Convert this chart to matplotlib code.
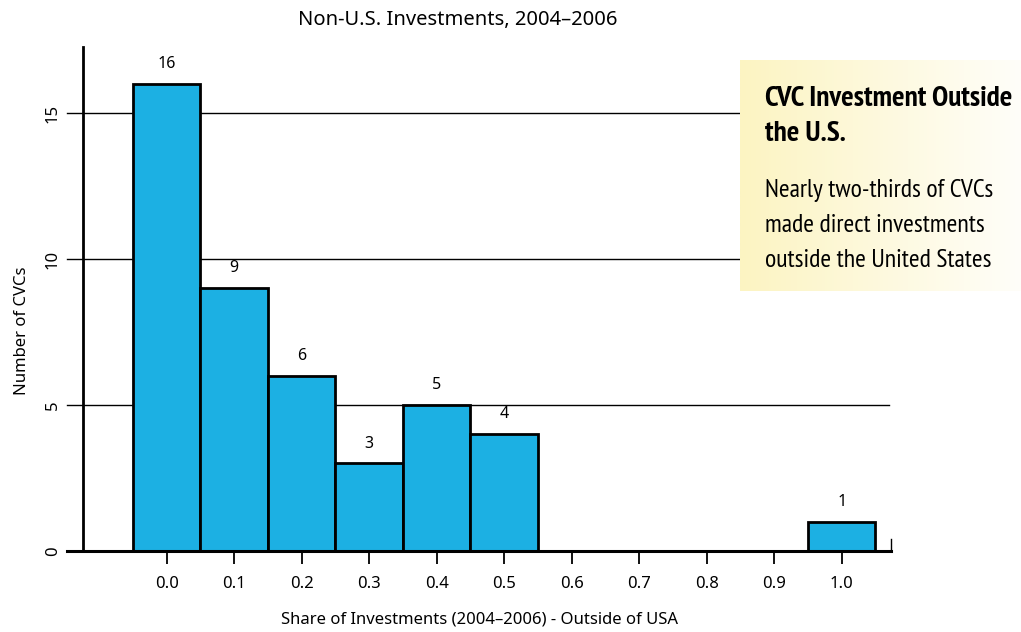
import numpy as np
import matplotlib.pyplot as plt
from matplotlib.colors import LinearSegmentedColormap

bin_centers = [0.0, 0.1, 0.2, 0.3, 0.4, 0.5, 0.6, 0.7, 0.8, 0.9, 1.0]
counts = [16, 9, 6, 3, 5, 4, 0, 0, 0, 0, 1]
x_ticks = [0.0, 0.1, 0.2, 0.3, 0.4, 0.5, 0.6, 0.7, 0.8, 0.9, 1.0]
y_ticks = [0, 5, 10, 15]

plt.rcParams['font.family'] = ['Noto Sans', 'DejaVu Sans']

W, H = 1021, 632
fig = plt.figure(figsize=(W / 100, H / 100), dpi=100)
ax = fig.add_axes([83 / W, 81 / H, 808 / W, 504 / H])

ax.bar(bin_centers, counts, width=0.1, color='#1cb0e3', edgecolor='black',
       linewidth=2, zorder=3)
for xc, c in zip(bin_centers, counts):
    if c > 0:
        ax.text(xc, c + 0.68, str(c), ha='center', va='center', fontsize=11.5)

ax.set_xlim(-0.124, 1.073)
ax.set_ylim(0, 17.26)

for yv in y_ticks[1:]:
    ax.axhline(yv, xmin=-0.02, xmax=0.998, color='black', linewidth=1,
               clip_on=False, zorder=1)
ax.axhline(0, xmin=-0.02, xmax=1.0, color='black', linewidth=2.2,
           clip_on=False, zorder=4)
ax.plot([1.073, 1.073], [0, 0.4], color='black', linewidth=1, clip_on=False)

for s in ['top', 'right', 'bottom']:
    ax.spines[s].set_visible(False)
ax.spines['left'].set_linewidth(2)

ax.set_xticks(x_ticks)
ax.set_xticklabels([f'{v:.1f}' for v in x_ticks], fontsize=12)
ax.tick_params(axis='x', length=9, width=1.3, pad=9)
ax.set_yticks(y_ticks)
ax.set_yticklabels([str(v) for v in y_ticks], fontsize=12, rotation=90, va='center')
ax.tick_params(axis='y', length=0, pad=16)

fig.text(458 / W, 1 - 20 / H, 'Non-U.S. Investments, 2004\u20132006', fontsize=14.5,
         ha='center', va='center')
fig.text(479 / W, 1 - 620 / H, 'Share of Investments (2004\u20132006) - Outside of USA',
         fontsize=12, ha='center', va='center')
fig.text(22 / W, 1 - 331 / H, 'Number of CVCs', fontsize=12, rotation=90,
         ha='center', va='center')

# annotation panel
bx = fig.add_axes([740 / W, (H - 291) / H, 281 / W, 231 / H])
grad = np.linspace(0, 1, 256)[None, :]
cmap = LinearSegmentedColormap.from_list('y', ['#fcf4c2', '#fffef9'])
bx.imshow(grad, aspect='auto', cmap=cmap, extent=[0, 1, 0, 1])
bx.set_axis_off()

cond = ['PT Sans Narrow', 'Roboto Condensed', 'DejaVu Sans']
fig.text(765 / W, 1 - 106 / H, 'CVC Investment Outside', fontsize=21.2,
         fontweight='bold', family=cond, va='baseline', ha='left')
fig.text(765 / W, 1 - 141 / H, 'the U.S.', fontsize=21.2,
         fontweight='bold', family=cond, va='baseline', ha='left')
for i, line in enumerate(['Nearly two-thirds of CVCs', 'made direct investments',
                          'outside the United States']):
    fig.text(765 / W, 1 - (197 + 35 * i) / H, line, fontsize=18.6,
             family=cond, va='baseline', ha='left')

fig.savefig('out.png', dpi=100)
